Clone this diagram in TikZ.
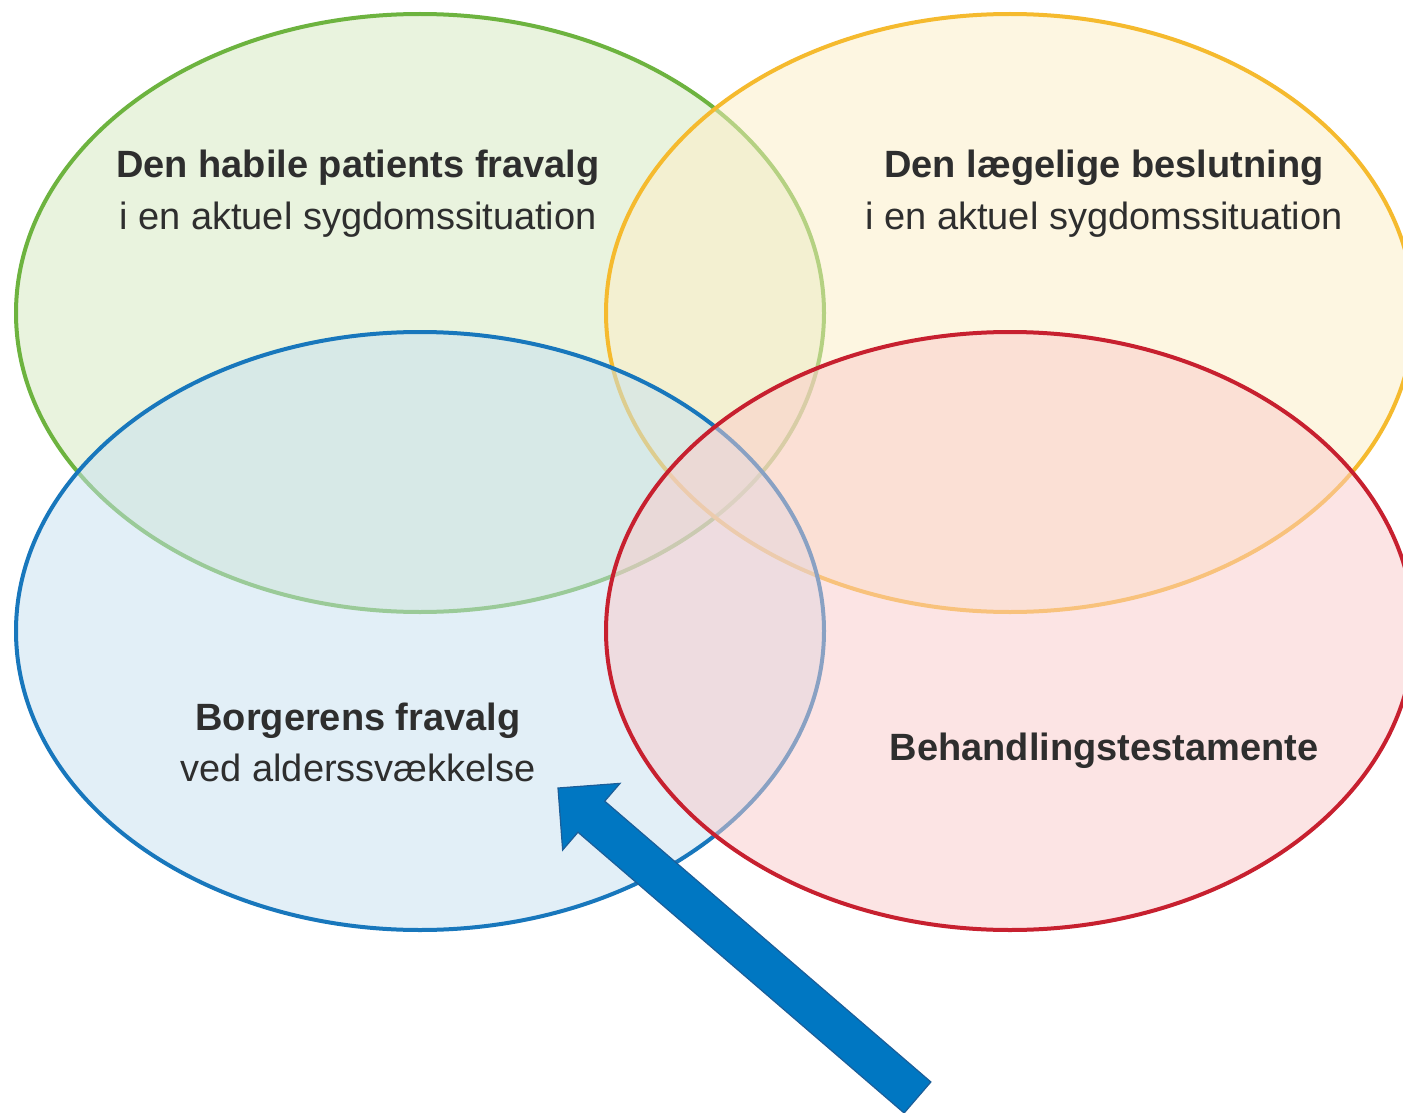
\documentclass[tikz,border=0pt]{standalone}
\usepackage{fontspec}
\setmainfont{Liberation Sans}
\usetikzlibrary{shapes.geometric,calc}
\definecolor{gline}{HTML}{6DB33F}
\definecolor{gfill}{HTML}{D5E9BF}
\definecolor{yline}{HTML}{F5BA2E}
\definecolor{yfill}{HTML}{FDEFC5}
\definecolor{bline}{HTML}{1877BC}
\definecolor{bfill}{HTML}{C7E1F1}
\definecolor{rline}{HTML}{C7202F}
\definecolor{rfill}{HTML}{FBCBCB}
\definecolor{txt}{HTML}{2E2E2E}
\definecolor{arrowblue}{HTML}{0077C2}
\definecolor{arrowedge}{HTML}{1B5E99}
\begin{document}
\begin{tikzpicture}[x=0.5pt,y=-0.5pt,
  venn/.style={ellipse, minimum width=404pt, minimum height=299pt, inner sep=0pt,
    line width=2pt, fill opacity=0.5, draw opacity=1},
  ttl/.style={font=\fontsize{19pt}{21pt}\selectfont\bfseries, text=txt, anchor=base, inner sep=0pt},
  sub/.style={font=\fontsize{19pt}{21pt}\selectfont, text=txt, anchor=base, inner sep=0pt},
  blockarrow/.style={fill=arrowblue, draw=arrowedge, line width=0.6pt, line join=miter}]
\useasboundingbox (0,0) rectangle (1403,1113);
\fill[white] (0,0) rectangle (1403,1113);
\clip (0,0) rectangle (1403,1113);
% ellipses
\node[venn, draw=gline, fill=gfill] (green) at (420,313) {};
\node[venn, draw=yline, fill=yfill] (yellow) at (1010,313) {};
\node[venn, draw=bline, fill=bfill] (blue) at (420,631) {};
\node[venn, draw=rline, fill=rfill] (red) at (1010,631) {};
% labels
\node[ttl] (gtitle) at (358,177) {Den habile patients fravalg};
\node[sub] (gsub) at (358,229) {i en aktuel sygdomssituation};
\node[ttl] (ytitle) at (1104,177) {Den lægelige beslutning};
\node[sub] (ysub) at (1104,229) {i en aktuel sygdomssituation};
\node[ttl] (btitle) at (358,730) {Borgerens fravalg};
\node[sub] (bsub) at (358,781) {ved alderssvækkelse};
\node[ttl] (rtitle) at (1104,760) {Behandlingstestamente};
% block arrow
\coordinate (arrowtail) at (917.5,1097.5);
\coordinate (arrowtip) at (558,788);
\coordinate (neck) at ($(arrowtip)!22pt!(arrowtail)$);
\filldraw[blockarrow]
  ($(arrowtail)!10.25pt!90:(arrowtip)$) --
  ($(neck)!10.25pt!90:(arrowtip)$) --
  ($(neck)!22pt!90:(arrowtip)$) --
  (arrowtip) --
  ($(neck)!22pt!-90:(arrowtip)$) --
  ($(neck)!10.25pt!-90:(arrowtip)$) --
  ($(arrowtail)!10.25pt!-90:(arrowtip)$) -- cycle;
\end{tikzpicture}
\end{document}
